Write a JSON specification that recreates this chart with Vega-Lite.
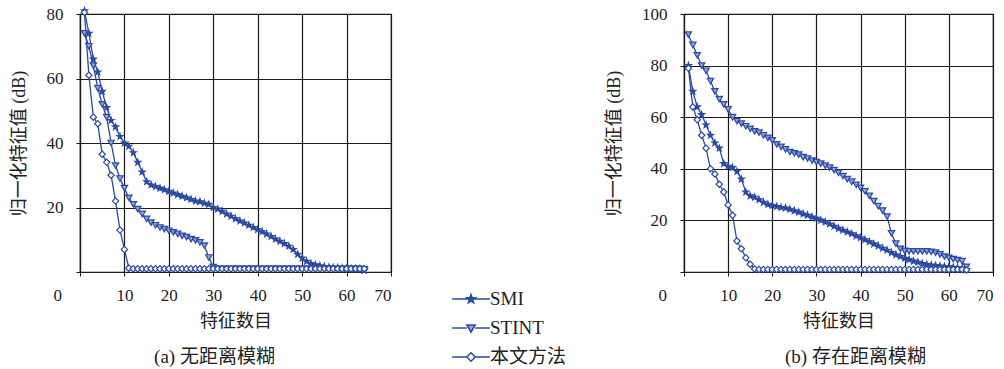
{
  "$schema": "https://vega.github.io/schema/vega-lite/v6.json",
  "padding": {"left": 9, "top": 4, "right": 2, "bottom": 0},
  "spacing": 211,
  "config": {
    "font": "Liberation Serif, Noto Sans CJK SC",
    "view": {"stroke": "#1a1a1a", "strokeWidth": 1.2},
    "axis": {
      "gridColor": "#1a1a1a", "gridOpacity": 1, "gridWidth": 1.2,
      "domainColor": "#1a1a1a", "domainWidth": 1.2,
      "tickColor": "#1a1a1a", "tickSize": 4, "tickWidth": 1,
      "labelFont": "Liberation Serif", "labelFontSize": 17, "labelColor": "#222",
      "titleFont": "Liberation Serif, Noto Sans CJK SC", "titleFontSize": 18, "titleFontWeight": "normal", "titleColor": "#222"
    },
    "title": {"font": "Liberation Serif, Noto Sans CJK SC", "fontSize": 19, "fontWeight": "normal", "color": "#222"},
    "point": {"stroke": "#2b4aa5", "strokeWidth": 1.2, "size": 40, "opacity": 1, "filled": true}
  },
  "resolve": {"scale": {"x": "independent", "y": "independent", "color": "shared"}},
  "datasets": {
    "d": [
      {"p":"a","s":"SMI","n":1,"v":81},{"p":"a","s":"SMI","n":2,"v":74},{"p":"a","s":"SMI","n":3,"v":66},{"p":"a","s":"SMI","n":4,"v":62},{"p":"a","s":"SMI","n":5,"v":56},{"p":"a","s":"SMI","n":6,"v":51},{"p":"a","s":"SMI","n":7,"v":47},{"p":"a","s":"SMI","n":8,"v":45},{"p":"a","s":"SMI","n":9,"v":42},{"p":"a","s":"SMI","n":10,"v":40},
      {"p":"a","s":"SMI","n":11,"v":39},{"p":"a","s":"SMI","n":12,"v":37},{"p":"a","s":"SMI","n":13,"v":34},{"p":"a","s":"SMI","n":14,"v":31},{"p":"a","s":"SMI","n":15,"v":28},{"p":"a","s":"SMI","n":16,"v":27},{"p":"a","s":"SMI","n":17,"v":26.5},{"p":"a","s":"SMI","n":18,"v":26},{"p":"a","s":"SMI","n":19,"v":25.5},{"p":"a","s":"SMI","n":20,"v":25},
      {"p":"a","s":"SMI","n":21,"v":24.5},{"p":"a","s":"SMI","n":22,"v":24},{"p":"a","s":"SMI","n":23,"v":23.5},{"p":"a","s":"SMI","n":24,"v":23},{"p":"a","s":"SMI","n":25,"v":22.5},{"p":"a","s":"SMI","n":26,"v":22},{"p":"a","s":"SMI","n":27,"v":21.8},{"p":"a","s":"SMI","n":28,"v":21.3},{"p":"a","s":"SMI","n":29,"v":21},{"p":"a","s":"SMI","n":30,"v":20},
      {"p":"a","s":"SMI","n":31,"v":19.5},{"p":"a","s":"SMI","n":32,"v":18.8},{"p":"a","s":"SMI","n":33,"v":18},{"p":"a","s":"SMI","n":34,"v":17.3},{"p":"a","s":"SMI","n":35,"v":16.5},{"p":"a","s":"SMI","n":36,"v":15.8},{"p":"a","s":"SMI","n":37,"v":15.2},{"p":"a","s":"SMI","n":38,"v":14.5},{"p":"a","s":"SMI","n":39,"v":13.8},{"p":"a","s":"SMI","n":40,"v":13.2},
      {"p":"a","s":"SMI","n":41,"v":12.5},{"p":"a","s":"SMI","n":42,"v":11.8},{"p":"a","s":"SMI","n":43,"v":11},{"p":"a","s":"SMI","n":44,"v":10.2},{"p":"a","s":"SMI","n":45,"v":9.5},{"p":"a","s":"SMI","n":46,"v":8.8},{"p":"a","s":"SMI","n":47,"v":8},{"p":"a","s":"SMI","n":48,"v":7},{"p":"a","s":"SMI","n":49,"v":5.5},{"p":"a","s":"SMI","n":50,"v":4.3},
      {"p":"a","s":"SMI","n":51,"v":3.3},{"p":"a","s":"SMI","n":52,"v":2.6},{"p":"a","s":"SMI","n":53,"v":2.2},{"p":"a","s":"SMI","n":54,"v":1.9},{"p":"a","s":"SMI","n":55,"v":1.7},{"p":"a","s":"SMI","n":56,"v":1.5},{"p":"a","s":"SMI","n":57,"v":1.4},{"p":"a","s":"SMI","n":58,"v":1.3},{"p":"a","s":"SMI","n":59,"v":1.2},{"p":"a","s":"SMI","n":60,"v":1.1},
      {"p":"a","s":"SMI","n":61,"v":1.1},{"p":"a","s":"SMI","n":62,"v":1},{"p":"a","s":"SMI","n":63,"v":1},{"p":"a","s":"SMI","n":64,"v":0.5},

      {"p":"a","s":"STINT","n":1,"v":74},{"p":"a","s":"STINT","n":2,"v":70},{"p":"a","s":"STINT","n":3,"v":64},{"p":"a","s":"STINT","n":4,"v":57},{"p":"a","s":"STINT","n":5,"v":52},{"p":"a","s":"STINT","n":6,"v":48},{"p":"a","s":"STINT","n":7,"v":40},{"p":"a","s":"STINT","n":8,"v":33},{"p":"a","s":"STINT","n":9,"v":29},{"p":"a","s":"STINT","n":10,"v":26},
      {"p":"a","s":"STINT","n":11,"v":23},{"p":"a","s":"STINT","n":12,"v":21},{"p":"a","s":"STINT","n":13,"v":19.5},{"p":"a","s":"STINT","n":14,"v":18},{"p":"a","s":"STINT","n":15,"v":16.5},{"p":"a","s":"STINT","n":16,"v":15.3},{"p":"a","s":"STINT","n":17,"v":14.5},{"p":"a","s":"STINT","n":18,"v":13.8},{"p":"a","s":"STINT","n":19,"v":13.3},{"p":"a","s":"STINT","n":20,"v":12.8},
      {"p":"a","s":"STINT","n":21,"v":12.3},{"p":"a","s":"STINT","n":22,"v":11.8},{"p":"a","s":"STINT","n":23,"v":11.2},{"p":"a","s":"STINT","n":24,"v":10.8},{"p":"a","s":"STINT","n":25,"v":10.2},{"p":"a","s":"STINT","n":26,"v":9.8},{"p":"a","s":"STINT","n":27,"v":9.2},{"p":"a","s":"STINT","n":28,"v":8.2},{"p":"a","s":"STINT","n":29,"v":4.5},{"p":"a","s":"STINT","n":30,"v":1.5},
      {"p":"a","s":"STINT","n":31,"v":1},{"p":"a","s":"STINT","n":32,"v":1},{"p":"a","s":"STINT","n":33,"v":1},{"p":"a","s":"STINT","n":34,"v":1},{"p":"a","s":"STINT","n":35,"v":1},{"p":"a","s":"STINT","n":36,"v":1},{"p":"a","s":"STINT","n":37,"v":1},{"p":"a","s":"STINT","n":38,"v":1},{"p":"a","s":"STINT","n":39,"v":1},{"p":"a","s":"STINT","n":40,"v":1},
      {"p":"a","s":"STINT","n":41,"v":1},{"p":"a","s":"STINT","n":42,"v":1},{"p":"a","s":"STINT","n":43,"v":1},{"p":"a","s":"STINT","n":44,"v":1},{"p":"a","s":"STINT","n":45,"v":1},{"p":"a","s":"STINT","n":46,"v":1},{"p":"a","s":"STINT","n":47,"v":1},{"p":"a","s":"STINT","n":48,"v":1},{"p":"a","s":"STINT","n":49,"v":1},{"p":"a","s":"STINT","n":50,"v":1},
      {"p":"a","s":"STINT","n":51,"v":1},{"p":"a","s":"STINT","n":52,"v":1},{"p":"a","s":"STINT","n":53,"v":1},{"p":"a","s":"STINT","n":54,"v":1},{"p":"a","s":"STINT","n":55,"v":1},{"p":"a","s":"STINT","n":56,"v":1},{"p":"a","s":"STINT","n":57,"v":1},{"p":"a","s":"STINT","n":58,"v":1},{"p":"a","s":"STINT","n":59,"v":1},{"p":"a","s":"STINT","n":60,"v":1},
      {"p":"a","s":"STINT","n":61,"v":1},{"p":"a","s":"STINT","n":62,"v":1},{"p":"a","s":"STINT","n":63,"v":1},{"p":"a","s":"STINT","n":64,"v":0.8},

      {"p":"a","s":"本文方法","n":1,"v":80.5},{"p":"a","s":"本文方法","n":2,"v":61},{"p":"a","s":"本文方法","n":3,"v":48},{"p":"a","s":"本文方法","n":4,"v":46},{"p":"a","s":"本文方法","n":5,"v":36.5},{"p":"a","s":"本文方法","n":6,"v":34},{"p":"a","s":"本文方法","n":7,"v":30},{"p":"a","s":"本文方法","n":8,"v":22},{"p":"a","s":"本文方法","n":9,"v":13},{"p":"a","s":"本文方法","n":10,"v":7},
      {"p":"a","s":"本文方法","n":11,"v":1.2},{"p":"a","s":"本文方法","n":12,"v":1},{"p":"a","s":"本文方法","n":13,"v":1},{"p":"a","s":"本文方法","n":14,"v":1},{"p":"a","s":"本文方法","n":15,"v":1},{"p":"a","s":"本文方法","n":16,"v":1},{"p":"a","s":"本文方法","n":17,"v":1},{"p":"a","s":"本文方法","n":18,"v":1},{"p":"a","s":"本文方法","n":19,"v":1},{"p":"a","s":"本文方法","n":20,"v":1},
      {"p":"a","s":"本文方法","n":21,"v":1},{"p":"a","s":"本文方法","n":22,"v":1},{"p":"a","s":"本文方法","n":23,"v":1},{"p":"a","s":"本文方法","n":24,"v":1},{"p":"a","s":"本文方法","n":25,"v":1},{"p":"a","s":"本文方法","n":26,"v":1},{"p":"a","s":"本文方法","n":27,"v":1},{"p":"a","s":"本文方法","n":28,"v":1},{"p":"a","s":"本文方法","n":29,"v":1},{"p":"a","s":"本文方法","n":30,"v":1},
      {"p":"a","s":"本文方法","n":31,"v":1},{"p":"a","s":"本文方法","n":32,"v":1},{"p":"a","s":"本文方法","n":33,"v":1},{"p":"a","s":"本文方法","n":34,"v":1},{"p":"a","s":"本文方法","n":35,"v":1},{"p":"a","s":"本文方法","n":36,"v":1},{"p":"a","s":"本文方法","n":37,"v":1},{"p":"a","s":"本文方法","n":38,"v":1},{"p":"a","s":"本文方法","n":39,"v":1},{"p":"a","s":"本文方法","n":40,"v":1},
      {"p":"a","s":"本文方法","n":41,"v":1},{"p":"a","s":"本文方法","n":42,"v":1},{"p":"a","s":"本文方法","n":43,"v":1},{"p":"a","s":"本文方法","n":44,"v":1},{"p":"a","s":"本文方法","n":45,"v":1},{"p":"a","s":"本文方法","n":46,"v":1},{"p":"a","s":"本文方法","n":47,"v":1},{"p":"a","s":"本文方法","n":48,"v":1},{"p":"a","s":"本文方法","n":49,"v":1},{"p":"a","s":"本文方法","n":50,"v":1},
      {"p":"a","s":"本文方法","n":51,"v":1},{"p":"a","s":"本文方法","n":52,"v":1},{"p":"a","s":"本文方法","n":53,"v":1},{"p":"a","s":"本文方法","n":54,"v":1},{"p":"a","s":"本文方法","n":55,"v":1},{"p":"a","s":"本文方法","n":56,"v":1},{"p":"a","s":"本文方法","n":57,"v":1},{"p":"a","s":"本文方法","n":58,"v":1},{"p":"a","s":"本文方法","n":59,"v":1},{"p":"a","s":"本文方法","n":60,"v":1},
      {"p":"a","s":"本文方法","n":61,"v":1},{"p":"a","s":"本文方法","n":62,"v":1},{"p":"a","s":"本文方法","n":63,"v":1},{"p":"a","s":"本文方法","n":64,"v":1},

      {"p":"b","s":"SMI","n":1,"v":80},{"p":"b","s":"SMI","n":2,"v":70},{"p":"b","s":"SMI","n":3,"v":64},{"p":"b","s":"SMI","n":4,"v":61},{"p":"b","s":"SMI","n":5,"v":57},{"p":"b","s":"SMI","n":6,"v":53},{"p":"b","s":"SMI","n":7,"v":50},{"p":"b","s":"SMI","n":8,"v":48},{"p":"b","s":"SMI","n":9,"v":42},{"p":"b","s":"SMI","n":10,"v":41},
      {"p":"b","s":"SMI","n":11,"v":40.5},{"p":"b","s":"SMI","n":12,"v":39},{"p":"b","s":"SMI","n":13,"v":36},{"p":"b","s":"SMI","n":14,"v":31},{"p":"b","s":"SMI","n":15,"v":29.5},{"p":"b","s":"SMI","n":16,"v":29},{"p":"b","s":"SMI","n":17,"v":28},{"p":"b","s":"SMI","n":18,"v":27},{"p":"b","s":"SMI","n":19,"v":26.2},{"p":"b","s":"SMI","n":20,"v":25.8},
      {"p":"b","s":"SMI","n":21,"v":25.4},{"p":"b","s":"SMI","n":22,"v":25},{"p":"b","s":"SMI","n":23,"v":24.8},{"p":"b","s":"SMI","n":24,"v":24.3},{"p":"b","s":"SMI","n":25,"v":23.7},{"p":"b","s":"SMI","n":26,"v":23.2},{"p":"b","s":"SMI","n":27,"v":22.5},{"p":"b","s":"SMI","n":28,"v":22},{"p":"b","s":"SMI","n":29,"v":21.3},{"p":"b","s":"SMI","n":30,"v":20.8},
      {"p":"b","s":"SMI","n":31,"v":20.1},{"p":"b","s":"SMI","n":32,"v":19.4},{"p":"b","s":"SMI","n":33,"v":18.6},{"p":"b","s":"SMI","n":34,"v":17.7},{"p":"b","s":"SMI","n":35,"v":16.9},{"p":"b","s":"SMI","n":36,"v":16.2},{"p":"b","s":"SMI","n":37,"v":15.5},{"p":"b","s":"SMI","n":38,"v":14.8},{"p":"b","s":"SMI","n":39,"v":14},{"p":"b","s":"SMI","n":40,"v":13.3},
      {"p":"b","s":"SMI","n":41,"v":12.5},{"p":"b","s":"SMI","n":42,"v":11.7},{"p":"b","s":"SMI","n":43,"v":10.9},{"p":"b","s":"SMI","n":44,"v":10.1},{"p":"b","s":"SMI","n":45,"v":9.2},{"p":"b","s":"SMI","n":46,"v":8.4},{"p":"b","s":"SMI","n":47,"v":7.5},{"p":"b","s":"SMI","n":48,"v":6.7},{"p":"b","s":"SMI","n":49,"v":6},{"p":"b","s":"SMI","n":50,"v":5.3},
      {"p":"b","s":"SMI","n":51,"v":4.8},{"p":"b","s":"SMI","n":52,"v":4.2},{"p":"b","s":"SMI","n":53,"v":3.8},{"p":"b","s":"SMI","n":54,"v":3.3},{"p":"b","s":"SMI","n":55,"v":2.9},{"p":"b","s":"SMI","n":56,"v":2.7},{"p":"b","s":"SMI","n":57,"v":2.5},{"p":"b","s":"SMI","n":58,"v":2.3},{"p":"b","s":"SMI","n":59,"v":2.1},{"p":"b","s":"SMI","n":60,"v":2},
      {"p":"b","s":"SMI","n":61,"v":1.8},{"p":"b","s":"SMI","n":62,"v":1.6},{"p":"b","s":"SMI","n":63,"v":1.4},{"p":"b","s":"SMI","n":64,"v":1},

      {"p":"b","s":"STINT","n":1,"v":92},{"p":"b","s":"STINT","n":2,"v":88},{"p":"b","s":"STINT","n":3,"v":84},{"p":"b","s":"STINT","n":4,"v":80},{"p":"b","s":"STINT","n":5,"v":78},{"p":"b","s":"STINT","n":6,"v":74},{"p":"b","s":"STINT","n":7,"v":70},{"p":"b","s":"STINT","n":8,"v":67},{"p":"b","s":"STINT","n":9,"v":65},{"p":"b","s":"STINT","n":10,"v":63},
      {"p":"b","s":"STINT","n":11,"v":60},{"p":"b","s":"STINT","n":12,"v":58.5},{"p":"b","s":"STINT","n":13,"v":57.5},{"p":"b","s":"STINT","n":14,"v":56.5},{"p":"b","s":"STINT","n":15,"v":55.5},{"p":"b","s":"STINT","n":16,"v":54.5},{"p":"b","s":"STINT","n":17,"v":54},{"p":"b","s":"STINT","n":18,"v":53},{"p":"b","s":"STINT","n":19,"v":52},{"p":"b","s":"STINT","n":20,"v":51},
      {"p":"b","s":"STINT","n":21,"v":49.5},{"p":"b","s":"STINT","n":22,"v":48.5},{"p":"b","s":"STINT","n":23,"v":47.5},{"p":"b","s":"STINT","n":24,"v":46.5},{"p":"b","s":"STINT","n":25,"v":46},{"p":"b","s":"STINT","n":26,"v":45.5},{"p":"b","s":"STINT","n":27,"v":44.5},{"p":"b","s":"STINT","n":28,"v":44},{"p":"b","s":"STINT","n":29,"v":43.2},{"p":"b","s":"STINT","n":30,"v":42.6},
      {"p":"b","s":"STINT","n":31,"v":42},{"p":"b","s":"STINT","n":32,"v":41.2},{"p":"b","s":"STINT","n":33,"v":40.5},{"p":"b","s":"STINT","n":34,"v":39.5},{"p":"b","s":"STINT","n":35,"v":38.4},{"p":"b","s":"STINT","n":36,"v":37.2},{"p":"b","s":"STINT","n":37,"v":36},{"p":"b","s":"STINT","n":38,"v":35},{"p":"b","s":"STINT","n":39,"v":33.8},{"p":"b","s":"STINT","n":40,"v":32.6},
      {"p":"b","s":"STINT","n":41,"v":31.3},{"p":"b","s":"STINT","n":42,"v":29.5},{"p":"b","s":"STINT","n":43,"v":27.5},{"p":"b","s":"STINT","n":44,"v":25.5},{"p":"b","s":"STINT","n":45,"v":23.8},{"p":"b","s":"STINT","n":46,"v":21.5},{"p":"b","s":"STINT","n":47,"v":15},{"p":"b","s":"STINT","n":48,"v":11},{"p":"b","s":"STINT","n":49,"v":9},{"p":"b","s":"STINT","n":50,"v":8.2},
      {"p":"b","s":"STINT","n":51,"v":8},{"p":"b","s":"STINT","n":52,"v":8},{"p":"b","s":"STINT","n":53,"v":8},{"p":"b","s":"STINT","n":54,"v":8},{"p":"b","s":"STINT","n":55,"v":8},{"p":"b","s":"STINT","n":56,"v":7.8},{"p":"b","s":"STINT","n":57,"v":7.5},{"p":"b","s":"STINT","n":58,"v":6.8},{"p":"b","s":"STINT","n":59,"v":6},{"p":"b","s":"STINT","n":60,"v":5.5},
      {"p":"b","s":"STINT","n":61,"v":5},{"p":"b","s":"STINT","n":62,"v":4.6},{"p":"b","s":"STINT","n":63,"v":4.2},{"p":"b","s":"STINT","n":64,"v":2},

      {"p":"b","s":"本文方法","n":1,"v":79},{"p":"b","s":"本文方法","n":2,"v":64},{"p":"b","s":"本文方法","n":3,"v":59},{"p":"b","s":"本文方法","n":4,"v":53},{"p":"b","s":"本文方法","n":5,"v":48},{"p":"b","s":"本文方法","n":6,"v":40},{"p":"b","s":"本文方法","n":7,"v":38},{"p":"b","s":"本文方法","n":8,"v":34},{"p":"b","s":"本文方法","n":9,"v":31},{"p":"b","s":"本文方法","n":10,"v":26},
      {"p":"b","s":"本文方法","n":11,"v":22},{"p":"b","s":"本文方法","n":12,"v":12},{"p":"b","s":"本文方法","n":13,"v":9},{"p":"b","s":"本文方法","n":14,"v":5.5},{"p":"b","s":"本文方法","n":15,"v":3},{"p":"b","s":"本文方法","n":16,"v":1.2},{"p":"b","s":"本文方法","n":17,"v":1},{"p":"b","s":"本文方法","n":18,"v":1},{"p":"b","s":"本文方法","n":19,"v":1},{"p":"b","s":"本文方法","n":20,"v":1},
      {"p":"b","s":"本文方法","n":21,"v":1},{"p":"b","s":"本文方法","n":22,"v":1},{"p":"b","s":"本文方法","n":23,"v":1},{"p":"b","s":"本文方法","n":24,"v":1},{"p":"b","s":"本文方法","n":25,"v":1},{"p":"b","s":"本文方法","n":26,"v":1},{"p":"b","s":"本文方法","n":27,"v":1},{"p":"b","s":"本文方法","n":28,"v":1},{"p":"b","s":"本文方法","n":29,"v":1},{"p":"b","s":"本文方法","n":30,"v":1},
      {"p":"b","s":"本文方法","n":31,"v":1},{"p":"b","s":"本文方法","n":32,"v":1},{"p":"b","s":"本文方法","n":33,"v":1},{"p":"b","s":"本文方法","n":34,"v":1},{"p":"b","s":"本文方法","n":35,"v":1},{"p":"b","s":"本文方法","n":36,"v":1},{"p":"b","s":"本文方法","n":37,"v":1},{"p":"b","s":"本文方法","n":38,"v":1},{"p":"b","s":"本文方法","n":39,"v":1},{"p":"b","s":"本文方法","n":40,"v":1},
      {"p":"b","s":"本文方法","n":41,"v":1},{"p":"b","s":"本文方法","n":42,"v":1},{"p":"b","s":"本文方法","n":43,"v":1},{"p":"b","s":"本文方法","n":44,"v":1},{"p":"b","s":"本文方法","n":45,"v":1},{"p":"b","s":"本文方法","n":46,"v":1},{"p":"b","s":"本文方法","n":47,"v":1},{"p":"b","s":"本文方法","n":48,"v":1},{"p":"b","s":"本文方法","n":49,"v":1},{"p":"b","s":"本文方法","n":50,"v":1},
      {"p":"b","s":"本文方法","n":51,"v":1},{"p":"b","s":"本文方法","n":52,"v":1},{"p":"b","s":"本文方法","n":53,"v":1},{"p":"b","s":"本文方法","n":54,"v":1},{"p":"b","s":"本文方法","n":55,"v":1},{"p":"b","s":"本文方法","n":56,"v":1},{"p":"b","s":"本文方法","n":57,"v":1},{"p":"b","s":"本文方法","n":58,"v":1},{"p":"b","s":"本文方法","n":59,"v":1},{"p":"b","s":"本文方法","n":60,"v":1},
      {"p":"b","s":"本文方法","n":61,"v":1},{"p":"b","s":"本文方法","n":62,"v":1},{"p":"b","s":"本文方法","n":63,"v":1},{"p":"b","s":"本文方法","n":64,"v":0.8}
    ]
  },
  "hconcat": [
    {
      "width": 311, "height": 258,
      "data": {"name": "d"},
      "transform": [{"filter": "datum.p === 'a'"}],
      "title": {"text": "(a) 无距离模糊", "orient": "bottom", "dx": -21, "offset": 18},
      "encoding": {
        "x": {"field": "n", "type": "quantitative", "scale": {"domain": [0, 70], "nice": false},
              "axis": {"values": [0,10,20,30,40,50,60,70], "title": "特征数目", "labelPadding": 11, "titlePadding": 9,
                       "labelOffset": {"condition": {"test": "datum.value === 0", "value": -27}, "value": 0}}},
        "y": {"field": "v", "type": "quantitative", "scale": {"domain": [0, 80], "nice": false},
              "axis": {"values": [0,20,40,60,80], "labelExpr": "datum.value === 0 ? '' : datum.label", "title": "归一化特征值 (dB)", "labelPadding": 13, "titlePadding": 18}}
      },
      "layer": [
        {
          "mark": {"type": "line", "strokeWidth": 1.3},
          "encoding": {
            "color": {"field": "s", "type": "nominal",
                      "scale": {"domain": ["SMI", "STINT", "本文方法"], "range": ["#2b4aa5", "#2b4aa5", "#2b4aa5"]},
                      "legend": {"orient": "none", "legendX": 376, "legendY": 270, "title": null, "padding": 0,
                                 "symbolSize": 784, "labelFontSize": 19, "labelFont": "Liberation Serif, Noto Sans CJK SC", "labelColor": "#222",
                                 "labelOffset": 4, "rowPadding": 4, "symbolStrokeWidth": 1.5,
                                 "encode": {"symbols": {"update": {
                                   "shape": {"signal": "datum.value === 'SMI' ? 'M-1.35,0H1.35M0,-0.32L0.076,-0.105L0.304,-0.099L0.124,0.04L0.188,0.259L0,0.13L-0.188,0.259L-0.124,0.04L-0.304,-0.099L-0.076,-0.105Z' : datum.value === 'STINT' ? 'M-1.35,0H-0.3M0.3,0H1.35M-0.3,-0.22L0.3,-0.22L0,0.3Z' : 'M-1.35,0H-0.3M0.3,0H1.35M0,-0.3L0.3,0L0,0.3L-0.3,0Z'"},
                                   "fill": {"signal": "datum.value === 'SMI' ? '#2b4aa5' : datum.value === 'STINT' ? '#8fa3d8' : '#ffffff'"},
                                   "stroke": {"value": "#2b4aa5"},
                                   "strokeWidth": {"value": 1.5},
                                   "opacity": {"value": 1}
                                 }}}}}
          }
        },
        {"transform": [{"filter": "datum.s === 'SMI'"}], "mark": {"type": "point", "shape": "M0,-1L0.235,-0.324L0.951,-0.309L0.38,0.124L0.588,0.809L0,0.4L-0.588,0.809L-0.38,0.124L-0.951,-0.309L-0.235,-0.324Z", "fill": "#2b4aa5"}},
        {"transform": [{"filter": "datum.s === 'STINT'"}], "mark": {"type": "point", "shape": "triangle-down", "fill": "#8fa3d8"}},
        {"transform": [{"filter": "datum.s === '本文方法'"}], "mark": {"type": "point", "shape": "diamond", "fill": "#ffffff"}}
      ]
    },
    {
      "width": 309, "height": 258,
      "data": {"name": "d"},
      "transform": [{"filter": "datum.p === 'b'"}],
      "title": {"text": "(b) 存在距离模糊", "orient": "bottom", "dx": 17, "offset": 18},
      "encoding": {
        "x": {"field": "n", "type": "quantitative", "scale": {"domain": [0, 70], "nice": false},
              "axis": {"values": [0,10,20,30,40,50,60,70], "title": "特征数目", "labelPadding": 11, "titlePadding": 9,
                       "labelOffset": {"condition": {"test": "datum.value === 0", "value": -26}, "value": 0}}},
        "y": {"field": "v", "type": "quantitative", "scale": {"domain": [0, 100], "nice": false},
              "axis": {"values": [0,20,40,60,80,100], "labelExpr": "datum.value === 0 ? '' : datum.label", "title": "归一化特征值 (dB)", "labelPadding": 13, "titlePadding": 18}}
      },
      "layer": [
        {
          "mark": {"type": "line", "strokeWidth": 1.3},
          "encoding": {
            "color": {"field": "s", "type": "nominal",
                      "scale": {"domain": ["SMI", "STINT", "本文方法"], "range": ["#2b4aa5", "#2b4aa5", "#2b4aa5"]},
                      "legend": {"orient": "none", "legendX": 376, "legendY": 270, "title": null, "padding": 0,
                                 "symbolSize": 784, "labelFontSize": 19, "labelFont": "Liberation Serif, Noto Sans CJK SC", "labelColor": "#222",
                                 "labelOffset": 4, "rowPadding": 4, "symbolStrokeWidth": 1.5,
                                 "encode": {"symbols": {"update": {
                                   "shape": {"signal": "datum.value === 'SMI' ? 'M-1.35,0H1.35M0,-0.32L0.076,-0.105L0.304,-0.099L0.124,0.04L0.188,0.259L0,0.13L-0.188,0.259L-0.124,0.04L-0.304,-0.099L-0.076,-0.105Z' : datum.value === 'STINT' ? 'M-1.35,0H-0.3M0.3,0H1.35M-0.3,-0.22L0.3,-0.22L0,0.3Z' : 'M-1.35,0H-0.3M0.3,0H1.35M0,-0.3L0.3,0L0,0.3L-0.3,0Z'"},
                                   "fill": {"signal": "datum.value === 'SMI' ? '#2b4aa5' : datum.value === 'STINT' ? '#8fa3d8' : '#ffffff'"},
                                   "stroke": {"value": "#2b4aa5"},
                                   "strokeWidth": {"value": 1.5},
                                   "opacity": {"value": 1}
                                 }}}}}
          }
        },
        {"transform": [{"filter": "datum.s === 'SMI'"}], "mark": {"type": "point", "shape": "M0,-1L0.235,-0.324L0.951,-0.309L0.38,0.124L0.588,0.809L0,0.4L-0.588,0.809L-0.38,0.124L-0.951,-0.309L-0.235,-0.324Z", "fill": "#2b4aa5"}},
        {"transform": [{"filter": "datum.s === 'STINT'"}], "mark": {"type": "point", "shape": "triangle-down", "fill": "#8fa3d8"}},
        {"transform": [{"filter": "datum.s === '本文方法'"}], "mark": {"type": "point", "shape": "diamond", "fill": "#ffffff"}}
      ]
    }
  ]
}
